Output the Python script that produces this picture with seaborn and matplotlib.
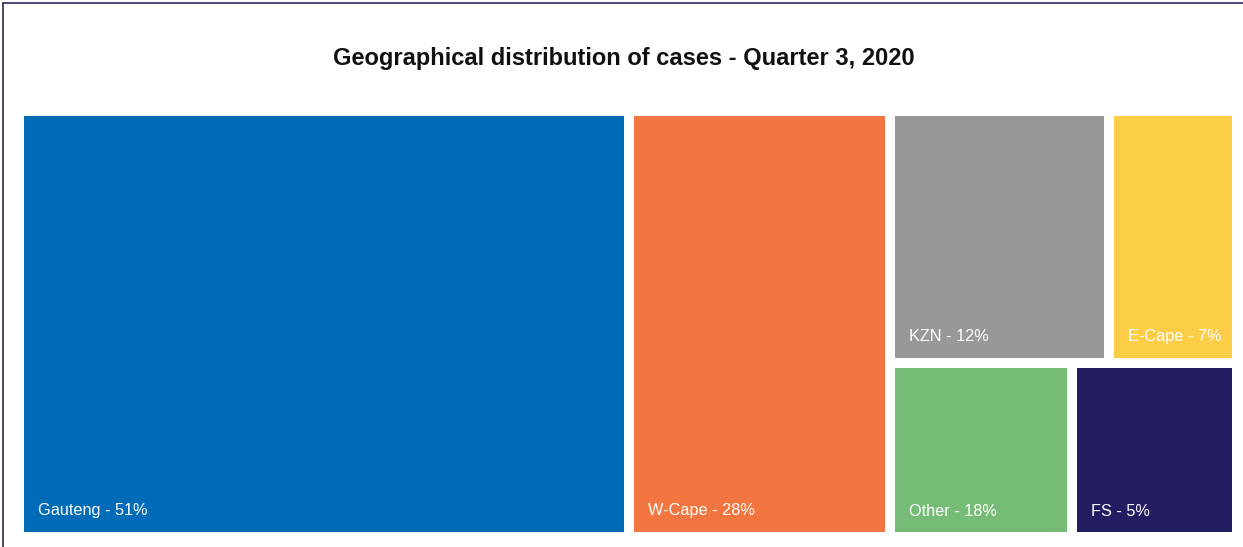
import matplotlib
matplotlib.use("Agg")
import matplotlib.pyplot as plt
import seaborn as sns
from matplotlib.patches import Rectangle
from matplotlib.lines import Line2D

# datos del treemap
regions = ["Gauteng", "W-Cape", "KZN", "E-Cape", "Other", "FS"]
pct_labels = [51, 28, 12, 7, 18, 5]
# areas estimadas del grafico original
sizes = [50.07, 21.40, 10.62, 6.23, 6.14, 5.54]
colors = ["#006bb6", "#f37640", "#97989a", "#fecd48", "#75bd77", "#221c63"]

title = "Geographical distribution of cases - Quarter 3, 2020"


def worst(row, w):
    s = sum(row)
    return max(max(w * w * r / (s * s), s * s / (w * w * r)) for r in row)


def squarify(vals, x, y, w, h):
    # algoritmo squarified simple, sin ordenar
    rects = []
    vals = list(vals)
    total = sum(vals)
    scale = w * h / total
    vals = [v * scale for v in vals]
    while vals:
        short = min(w, h)
        row = [vals.pop(0)]
        while vals and worst(row + [vals[0]], short) <= worst(row, short):
            row.append(vals.pop(0))
        s = sum(row)
        if w >= h:
            cw = s / h
            cy = y
            for r in row:
                rects.append((x, cy, cw, r / cw))
                cy += r / cw
            x += cw
            w -= cw
        else:
            rh = s / w
            cx = x
            for r in row:
                rects.append((cx, y, r / rh, rh))
                cx += r / rh
            y += rh
            h -= rh
    return rects


sns.set_style("white")
plt.rcParams["font.family"] = ["Liberation Sans", "DejaVu Sans"]

W, H = 1218, 426
fig = plt.figure(figsize=(12.43, 5.47), dpi=100)
ax = fig.add_axes([19 / 1243, 10 / 547, W / 1243, H / 547])

pad = 5
for (x0, y0, w, h), name, p, c in zip(squarify(sizes, 0, 0, W, H), regions, pct_labels, colors):
    ax.add_patch(Rectangle((x0 + pad, y0 + pad), w - 2 * pad, h - 2 * pad, color=c, lw=0))
    ax.annotate(f"{name} - {p}%", xy=(x0 + pad, y0 + h - pad), xytext=(14, 21),
                textcoords="offset pixels", color="white", fontsize=11.7,
                ha="left", va="center")

ax.set_xlim(0, W)
ax.set_ylim(H, 0)
ax.axis("off")

fig.text(0.5016, 1 - 58.5 / 547, title, ha="center", va="center",
         fontsize=17, fontweight="bold", color="#111111")

# borde superior e izquierdo
fig.add_artist(Line2D([3 / 1243, 3 / 1243], [0, 1 - 3 / 547], color="#3b3a6e", lw=1.3))
fig.add_artist(Line2D([3 / 1243, 1], [1 - 3 / 547, 1 - 3 / 547], color="#3b3a6e", lw=1.3))

fig.savefig("out.png", dpi=100)
